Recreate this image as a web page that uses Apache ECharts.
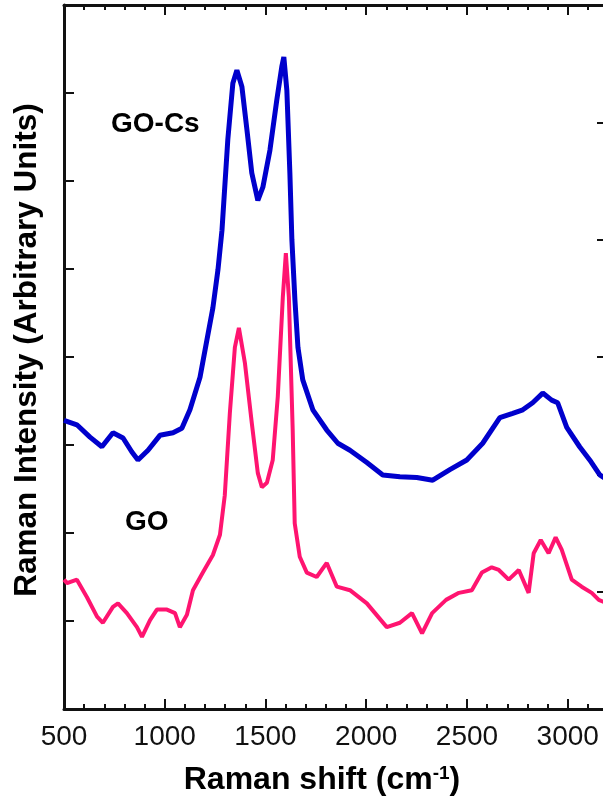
<!DOCTYPE html>
<html>
<head>
<meta charset="utf-8">
<script src="https://cdn.jsdelivr.net/npm/echarts@6/dist/echarts.min.js"></script>
<style>
html,body{margin:0;padding:0;background:#fff;}
#chart{width:603px;height:805px;}
</style>
</head>
<body>
<div id="chart"></div>
<script>
// Raman shift (cm-1) and intensities (arbitrary units, left-axis scale 0..8)
const goCsShift = [500,564,629,688,743,793,837,867,917,976,1041,1085,1125,1175,1209,1239,1264,1284,1313,1338,1358,1383,1408,1432,1462,1487,1522,1556,1581,1591,1606,1621,1631,1646,1661,1685,1735,1804,1859,1919,2003,2082,2167,2251,2330,2415,2499,2578,2663,2727,2777,2826,2876,2920,2950,2995,3059,3109,3159,3198];
const goCsIntensity = [3.28,3.23,3.09,2.98,3.14,3.08,2.92,2.83,2.94,3.11,3.14,3.19,3.40,3.77,4.19,4.56,4.99,5.44,6.47,7.11,7.26,7.07,6.58,6.09,5.78,5.93,6.35,6.92,7.30,7.41,7.03,6.09,5.33,4.65,4.11,3.74,3.40,3.17,3.02,2.94,2.80,2.66,2.64,2.63,2.60,2.72,2.83,3.02,3.31,3.36,3.40,3.48,3.59,3.51,3.48,3.20,2.98,2.83,2.66,2.60];
const goShift = [500,515,564,614,664,693,743,768,812,862,887,927,961,1011,1051,1075,1110,1140,1189,1239,1274,1298,1323,1348,1368,1398,1432,1462,1482,1507,1536,1561,1586,1601,1616,1635,1645,1670,1705,1754,1804,1854,1919,2003,2102,2167,2227,2277,2327,2396,2460,2524,2574,2623,2658,2707,2757,2806,2831,2866,2905,2940,2970,3020,3069,3119,3154,3198];
const goIntensity = [1.47,1.43,1.47,1.27,1.05,0.98,1.16,1.20,1.09,0.93,0.82,1.01,1.13,1.13,1.09,0.93,1.07,1.35,1.55,1.75,1.98,2.43,3.36,4.11,4.33,3.93,3.25,2.68,2.52,2.57,2.83,3.55,4.68,5.18,4.68,3.17,2.11,1.73,1.55,1.50,1.66,1.39,1.35,1.20,0.93,0.98,1.09,0.86,1.09,1.24,1.32,1.35,1.55,1.61,1.58,1.47,1.58,1.32,1.77,1.92,1.77,1.95,1.81,1.47,1.39,1.32,1.24,1.20];
const xTickLabels = ['500','1000','1500','2000','2500','3000'];
const xMinorTicks = [600,700,800,900,1100,1200,1300,1400,1600,1700,1800,1900,2100,2200,2300,2400,2600,2700,2800,2900,3100];
const seriesNames = ['GO-Cs','GO'];
const xTitle = 'Raman shift (cm{sup|-1})';
const yTitle = 'Raman Intensity (Arbitrary Units)';

const pairs = (xs, ys) => xs.map((x, i) => [x, ys[i]]);
const axisColor = '#111';
const FONT = 'Liberation Sans, Arial, sans-serif';
const xMajorVals = xTickLabels.map(Number);
const xMin = 500, xMax = 3175;

const majorX = (pos, showLabel) => ({
  type: 'value', position: pos, min: xMin, max: xMax,
  axisLine: {show: true, onZero: false, lineStyle: {color: axisColor, width: 3}},
  axisTick: {show: true, inside: true, length: 10, customValues: xMajorVals, lineStyle: {color: axisColor, width: 2}},
  axisLabel: showLabel ? {show: true, customValues: xMajorVals, fontSize: 28, color: '#111', margin: 14,
                          fontFamily: FONT, formatter: x => String(x)} : {show: false},
  splitLine: {show: false}
});
const minorX = (pos) => ({
  type: 'value', position: pos, min: xMin, max: xMax,
  axisLine: {show: false, onZero: false},
  axisTick: {show: true, inside: true, length: 5, customValues: xMinorTicks, lineStyle: {color: axisColor, width: 2}},
  axisLabel: {show: false}, splitLine: {show: false}
});

const chart = echarts.init(document.getElementById('chart'));
chart.setOption({
  animation: false,
  backgroundColor: '#fff',
  grid: {left: 64, top: 5, right: 0, bottom: 96, containLabel: false, outerBoundsMode: 'none'},
  xAxis: [
    Object.assign(majorX('bottom', true), {
      name: xTitle, nameLocation: 'middle', nameGap: 55,
      nameTextStyle: {fontSize: 32, fontWeight: 'bold', color: '#000', fontFamily: FONT, padding: [0, 23, 0, 0],
        rich: {sup: {fontSize: 19, fontWeight: 'bold', color: '#000', verticalAlign: 'top', fontFamily: FONT}}}
    }),
    majorX('top', false), minorX('bottom'), minorX('top')
  ],
  yAxis: [
    {type: 'value', position: 'left', min: 0, max: 8, interval: 1,
     axisLine: {show: true, onZero: false, lineStyle: {color: axisColor, width: 3}},
     axisTick: {show: true, inside: true, length: 10, lineStyle: {color: axisColor, width: 2}},
     axisLabel: {show: false}, splitLine: {show: false}},
    {type: 'value', position: 'right', min: 0, max: 6, interval: 1, axisLine: {show: false},
     axisTick: {show: true, inside: true, length: 6, lineStyle: {color: axisColor, width: 2}},
     axisLabel: {show: false}, splitLine: {show: false}}
  ],
  series: [
    {name: seriesNames[0], type: 'line', xAxisIndex: 0, yAxisIndex: 0, data: pairs(goCsShift, goCsIntensity),
     showSymbol: false, lineStyle: {color: '#0000cc', width: 5}},
    {name: seriesNames[1], type: 'line', xAxisIndex: 0, yAxisIndex: 0, data: pairs(goShift, goIntensity),
     showSymbol: false, lineStyle: {color: '#ff1470', width: 4}}
  ],
  graphic: [
    {type: 'text', left: 111, top: 110, style: {text: seriesNames[0], fontSize: 28, fontWeight: 'bold', fill: '#000', fontFamily: FONT}},
    {type: 'text', left: 125, top: 508, style: {text: seriesNames[1], fontSize: 28, fontWeight: 'bold', fill: '#000', fontFamily: FONT}},
    {type: 'text', x: 27, y: 350, rotation: Math.PI / 2,
     style: {text: yTitle, fontSize: 31.5, fontWeight: 'bold', fill: '#000', fontFamily: FONT, align: 'center', verticalAlign: 'middle'}}
  ]
});
</script>
</body>
</html>
